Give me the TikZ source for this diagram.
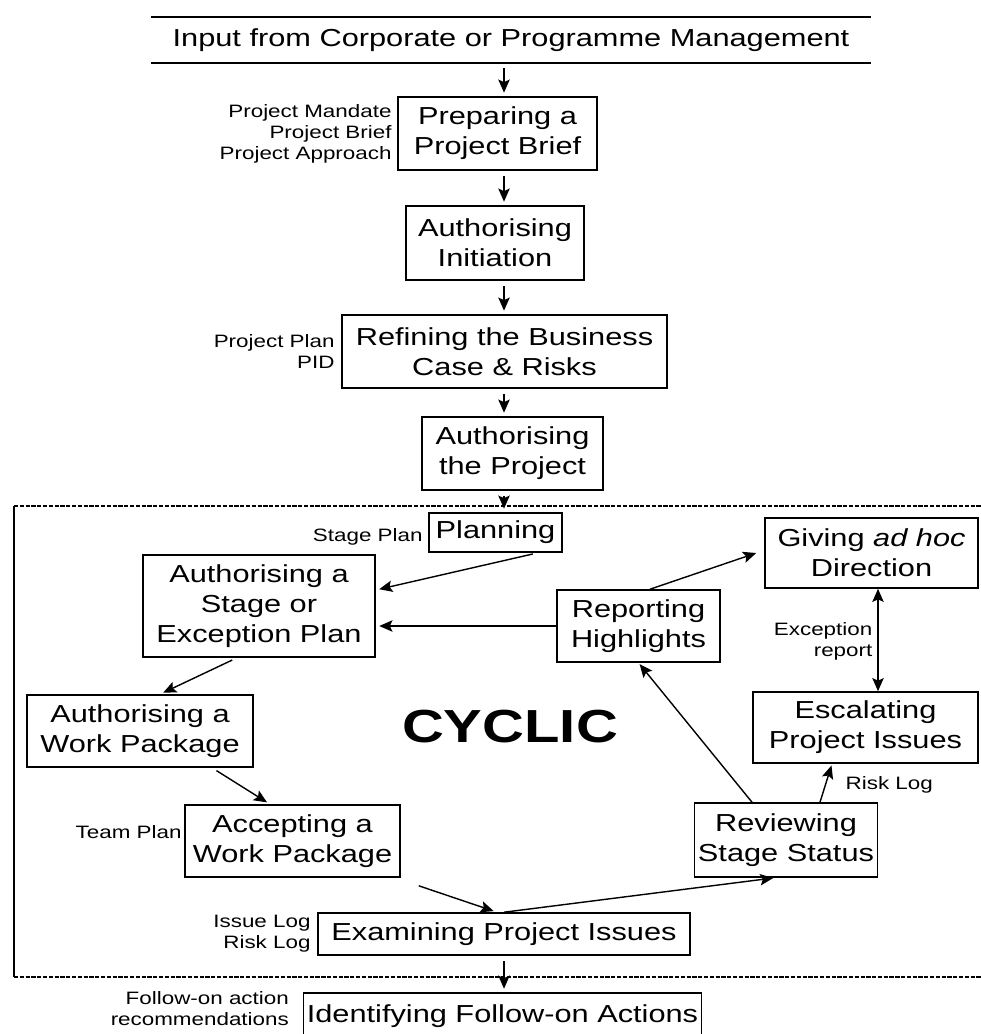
\documentclass[tikz,border=0pt]{standalone}
\usepackage{fontspec}
\setmainfont{Liberation Sans}[FakeStretch=1.25]
\usetikzlibrary{positioning, arrows.meta, shapes}

\tikzset{
  proc/.style={draw, line width=0.9pt, align=center, inner sep=2pt, font=\fontsize{14}{17}\selectfont},
  note/.style={align=right, inner sep=0pt, font=\fontsize{10.2}{12}\selectfont},
  flow/.style={->, shorten <=3pt, shorten >=2pt},
  frame/.style={line width=1.5pt, dash pattern=on 2.4pt off 0.9pt},
}

\begin{document}
\begin{tikzpicture}[x=0.02cm, y=-0.02cm, >={Stealth[length=7.5pt,width=6.5pt,inset=1.5pt]}, line width=0.8pt]
  \useasboundingbox (0,0) rectangle (980,1034);
  \coordinate (axis) at (504,0);

  % the chain into the stages
  \node[proc, draw=none, minimum width=14.36cm, minimum height=0.88cm] (input) at (511,40) {Input from Corporate or Programme Management};
  \draw[line width=1.1pt] (input.north west) -- (input.north east) (input.south west) -- (input.south east);
  \node[proc, minimum width=3.98cm, minimum height=1.46cm] (prep) at (497.5,133.5) {Preparing a\\Project Brief};
  \node[proc, minimum width=3.56cm, minimum height=1.48cm] (authinit) at (495,243) {Authorising\\Initiation};
  \node[proc, minimum width=6.5cm, minimum height=1.46cm] (refining) at (504.5,351.5) {Refining the Business\\Case \& Risks};
  \node[proc, minimum width=3.62cm, minimum height=1.46cm] (authproj) at (512.5,453.5) {Authorising\\the Project};

  \node[note, left=0.1cm of prep] (prepin) {Project Mandate\\Project Brief\\Project Approach};
  \node[note, left=0.12cm of refining] (refin) {Project Plan\\PID};

  % cyclic part
  \draw[frame] (14,506) -- (1000,506) (14,977) -- (1000,977);
  \draw[line width=1pt] (14,506) -- (14,977);

  \node[proc, minimum width=2.66cm, minimum height=0.78cm] (planning) at (495.5,532.5) {Planning};
  \node[proc, minimum width=4.64cm, minimum height=2.04cm] (authstage) at (259,606) {Authorising a\\Stage or\\Exception Plan};
  \node[proc, minimum width=3.26cm, minimum height=1.44cm] (reporting) at (638.5,626) {Reporting\\Highlights};
  \node[proc, minimum width=4.26cm, minimum height=1.4cm] (giving) at (871.5,553) {Giving \emph{ad hoc}\\Direction};
  \node[proc, minimum width=4.5cm, minimum height=1.42cm] (escalating) at (865.5,727.5) {Escalating\\Project Issues};
  \node[proc, minimum width=4.52cm, minimum height=1.44cm] (authwp) at (140,731) {Authorising a\\Work Package};
  \node[proc, minimum width=4.3cm, minimum height=1.44cm] (accepting) at (292.5,841) {Accepting a\\Work Package};
  \node[proc, minimum width=3.64cm, minimum height=1.48cm] (reviewing) at (786,840) {Reviewing\\Stage Status};
  \node[proc, minimum width=7.44cm, minimum height=0.84cm] (examining) at (504,934) {Examining Project Issues};
  \node[font=\fontsize{26.4}{30}\selectfont\bfseries] (cyclic) at (510,727) {CYCLIC};

  \node[note, left=0.1cm of planning, yshift=-0.08cm] (planin) {Stage Plan};
  \node[note, left=0.04cm of accepting, yshift=0.18cm] (teamin) {Team Plan};
  \node[note, left=0.12cm of examining] (examin) {Issue Log\\Risk Log};
  \node[note, anchor=east] (excrep) at (873,641) {Exception\\report};
  \node[note, anchor=west] (risklog) at (845,785) {Risk Log};

  % after the stages
  \node[proc, minimum width=7.9cm, minimum height=0.94cm] (identifying) at (502.5,1016.5) {Identifying Follow-on Actions};
  \node[note, left=0.26cm of identifying, yshift=0.15cm] (identin) {Follow-on action\\recommendations};

  \draw[flow] (input.south -| axis) -- (prep.north -| axis);
  \draw[flow] (prep.south -| axis) -- (authinit.north -| axis);
  \draw[flow] (authinit.south -| axis) -- (refining.north -| axis);
  \draw[flow] (refining.south -| axis) -- (authproj.north -| axis);
  \draw[flow] (authproj.south -| axis) -- (planning.north -| axis);
  \draw[flow] (examining.south -| axis) -- (identifying.north -| axis);

  \draw[flow] ([xshift=0.85cm]planning.south) -- ([yshift=0.32cm]authstage.east);
  \draw[->, shorten >=2pt] (reporting.west) -- (reporting.west -| authstage.east);
  \draw[->] ([xshift=0.23cm]reporting.north) -- ([xshift=-0.16cm]giving.west);
  \draw[<->] ([xshift=0.13cm]giving.south) -- ([xshift=0.13cm]giving.south |- escalating.north);
  \draw[flow] ([xshift=-0.44cm]authstage.south) -- ([xshift=0.4cm]authwp.north);
  \draw[flow] ([xshift=1.44cm]authwp.south) -- ([xshift=-0.45cm]accepting.north);
  \draw[->, shorten >=1pt] ([xshift=-0.68cm]reviewing.north) -- (reporting.south);
  \draw[->, shorten >=1pt] ([xshift=0.68cm]reviewing.north) -- ([xshift=-0.67cm]escalating.south);
  \draw[->, shorten >=2pt] ([xshift=0.36cm,yshift=-0.16cm]accepting.south east) -- ([xshift=-0.14cm]examining.north);
  \draw[->, shorten >=1pt] (examining.north) -- ([xshift=-0.22cm]reviewing.south);
\end{tikzpicture}
\end{document}
